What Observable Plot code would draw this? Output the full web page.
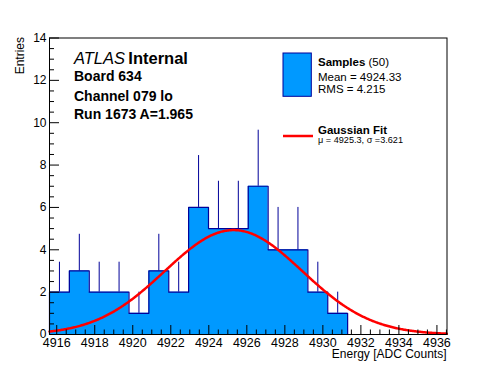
<!DOCTYPE html>
<html><head><meta charset="utf-8">
<script src="https://cdn.jsdelivr.net/npm/d3@7"></script>
<script src="https://cdn.jsdelivr.net/npm/@observablehq/plot@0.6"></script>
<style>
html,body{margin:0;padding:0;background:#fff;}
#chart svg{display:block;font-family:"Liberation Sans",Arial,Helvetica,sans-serif;}
</style></head><body><div id="chart"></div>
<script>
// ---- data ----
const binStart = 4915.62;
const binWidth = 1.0455;
const binCounts = [2, 3, 2, 2, 1, 3, 2, 6, 5, 5, 7, 4, 4, 2, 1, 0, 0, 0, 0, 0];
const fitAmplitude = 4.93;
const fitMean = 4925.3;
const fitSigma = 3.621;
const xTicks = [4916, 4918, 4920, 4922, 4924, 4926, 4928, 4930, 4932, 4934, 4936];
const yTicks = [0, 2, 4, 6, 8, 10, 12, 14];
const yMax = 14;
const xTitle = "Energy [ADC Counts]";
const yTitle = "Entries";
const infoLines = ["Board 634", "Channel 079 lo", "Run 1673 A=1.965"];
const sampleCount = 50;
const sampleMean = "4924.33";
const sampleRMS = "4.215";
const fitMeanLabel = "4925.3";
const fitSigmaLabel = "3.621";

// ---- derived tables ----
const nBins = binCounts.length;
const xDomain = [binStart, binStart + nBins * binWidth];
const bins = binCounts.map((c, i) => ({x1: binStart + i * binWidth, xc: binStart + (i + 0.5) * binWidth, c}));
const outline = [{x: xDomain[0], y: 0}, ...bins.map(b => ({x: b.x1, y: b.c})), {x: xDomain[1], y: 0}];
const errBars = bins.filter(b => b.c > 0).map(b => ({x: b.xc, y1: b.c, y2: b.c + Math.sqrt(b.c)}));
const fitCurve = d3.range(xDomain[0], xDomain[1] + 1e-9, 0.05).map(x => ({x, y: fitAmplitude * Math.exp(-((x - fitMean) ** 2) / (2 * fitSigma ** 2))}));
const yMinor = d3.range(0, yMax + 1e-9, 0.5).filter(v => !yTicks.includes(v));
const xMinor = d3.range(xTicks[0], xDomain[1], 0.5).filter(v => !xTicks.includes(v));

const FILL = "#0099ff", NAVY = "#000099", RED = "#ff0000";

const plot = Plot.plot({
  width: 496, height: 372,
  marginLeft: 49, marginRight: 49.5, marginTop: 37.5, marginBottom: 38,
  style: {fontFamily: '"Liberation Sans",Arial,sans-serif', background: "white", overflow: "visible"},
  x: {domain: xDomain},
  y: {domain: [0, yMax]},
  marks: [
    Plot.areaY(outline, {x: "x", y: "y", curve: "step-after", fill: FILL}),
    Plot.line(outline, {x: "x", y: "y", curve: "step-after", stroke: NAVY, strokeWidth: 1.2}),
    Plot.ruleX(errBars, {x: "x", y1: "y1", y2: "y2", stroke: NAVY, strokeWidth: 1}),
    Plot.line(fitCurve, {x: "x", y: "y", stroke: RED, strokeWidth: 2.5}),
    Plot.axisY({anchor: "left", ticks: yTicks, tickSize: -10, tickFormat: () => "", label: null, stroke: "black"}),
    Plot.axisY({anchor: "left", ticks: yMinor, tickSize: -5, tickFormat: () => "", label: null, stroke: "black"}),
    Plot.axisY({anchor: "left", ticks: yTicks, tickSize: 0, tickPadding: 3, tickFormat: d => String(d), label: null, fontSize: 12, fill: "black"}),
    Plot.axisX({anchor: "bottom", ticks: xTicks, tickSize: -9, tickFormat: () => "", label: null, stroke: "black"}),
    Plot.axisX({anchor: "bottom", ticks: xMinor, tickSize: -4.5, tickFormat: () => "", label: null, stroke: "black"}),
    Plot.axisX({anchor: "bottom", ticks: xTicks, tickSize: 0, tickPadding: 4, tickFormat: d => String(d), label: null, fontSize: 12.5, fill: "black"}),
    Plot.frame({stroke: "black", strokeWidth: 1})
  ]
});
document.getElementById("chart").appendChild(plot);

const svg = d3.select(plot);
const g = svg.append("g").attr("font-family", '"Liberation Sans",Arial,sans-serif').attr("fill", "black").attr("text-anchor", "start");

// axis titles
g.append("text").attr("x", 446.5).attr("y", 357.5).attr("text-anchor", "end").attr("font-size", 12).text(xTitle);
g.append("text").attr("transform", "translate(23.5,37) rotate(-90)").attr("text-anchor", "end").attr("font-size", 12).text(yTitle);

// ATLAS label
g.append("text").attr("x", 74).attr("y", 63.5).attr("font-size", 16.5).attr("font-style", "italic").text("ATLAS");
g.append("text").attr("x", 128.3).attr("y", 63.5).attr("font-size", 16.5).attr("font-weight", "bold").text("Internal");
const infoY = [80.5, 101, 119];
infoLines.forEach((t, i) => g.append("text").attr("x", 74).attr("y", infoY[i]).attr("font-size", 14).attr("font-weight", "bold").text(t));

// legend
g.append("rect").attr("x", 283).attr("y", 53).attr("width", 28.3).attr("height", 43.3).attr("fill", FILL).attr("stroke", NAVY).attr("stroke-width", 1);
const t1 = g.append("text").attr("x", 318).attr("y", 66).attr("font-size", 11.5);
t1.append("tspan").attr("font-weight", "bold").text("Samples");
t1.append("tspan").text(` (${sampleCount})`);
g.append("text").attr("x", 318).attr("y", 81).attr("font-size", 11.5).text(`Mean = ${sampleMean}`);
g.append("text").attr("x", 318).attr("y", 93.3).attr("font-size", 11.5).text(`RMS = ${sampleRMS}`);
g.append("line").attr("x1", 283).attr("x2", 313).attr("y1", 136).attr("y2", 136).attr("stroke", RED).attr("stroke-width", 2.5);
g.append("text").attr("x", 318).attr("y", 133.8).attr("font-size", 11.5).attr("font-weight", "bold").text("Gaussian Fit");
g.append("text").attr("x", 318).attr("y", 143.2).attr("font-size", 9.5)
  .attr("textLength", 85).attr("lengthAdjust", "spacingAndGlyphs")
  .text(`μ = ${fitMeanLabel}, σ =${fitSigmaLabel}`);
</script></body></html>
